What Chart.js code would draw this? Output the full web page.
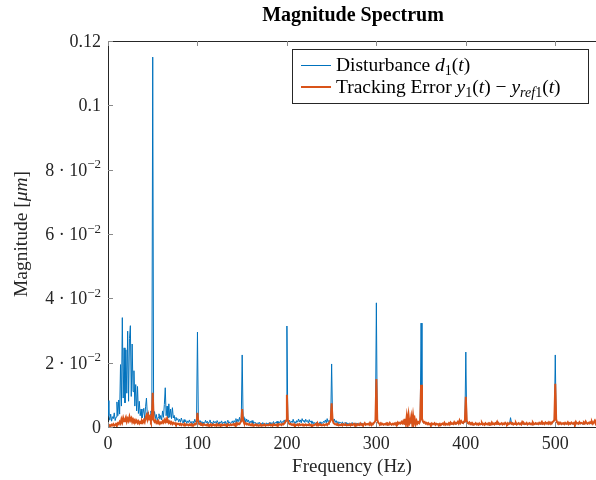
<!DOCTYPE html>
<html>
<head>
<meta charset="utf-8">
<script src="https://cdn.jsdelivr.net/npm/chart.js@4/dist/chart.umd.min.js"></script>
<style>
  html, body { margin: 0; padding: 0; background: #fff; overflow: hidden; }
  #wrap { width: 604px; height: 480px; }
</style>
</head>
<body>
<div id="wrap"><canvas id="spectrum" width="604" height="480"></canvas></div>
<script>
// magnitudes in units of 1e-3 um, one value per Hz starting at 0 Hz
const freqStep = 1;

const disturbance = [
  8.2, 3.5, 2.1, 4.0, 1.8, 3.2, 2.6, 4.4, 2.0, 3.1,
  7.8, 3.5, 8.4, 4.0, 19.4, 6.5, 34.0, 9.0, 24.6, 7.5,
  24.0, 10.5, 29.8, 8.0, 27.5, 31.5, 9.5, 25.8, 11.0, 17.5,
  6.5, 13.2, 5.0, 12.6, 4.2, 8.0, 3.5, 5.6, 2.8, 4.2,
  5.8, 2.4, 6.3, 9.0, 3.5, 4.6, 2.2, 3.8, 5.0, 2.5,
  115.0, 3.2, 4.8, 2.6, 3.9, 2.0, 3.0, 4.1, 2.4, 3.6,
  2.2, 5.0, 3.0, 7.0, 12.2, 3.5, 6.5, 2.8, 7.2, 3.0,
  5.6, 2.6, 6.0, 2.8, 3.6, 1.9, 3.0, 2.2, 2.6, 1.6,
  2.4, 1.5, 2.8, 1.8, 1.2, 2.3, 1.6, 2.0, 1.1, 1.9,
  1.4, 2.2, 1.3, 1.7, 1.0, 1.8, 1.2, 2.4, 1.5, 2.0,
  29.5, 2.6, 1.4, 2.0, 1.2, 1.7, 0.9, 1.5, 1.1, 2.1,
  1.3, 1.8, 1.0, 1.6, 2.2, 1.2, 1.5, 0.9, 1.9, 1.3,
  1.7, 1.1, 2.0, 1.4, 0.8, 1.6, 1.2, 1.9, 1.0, 1.5,
  1.2, 1.8, 0.9, 1.4, 2.1, 1.1, 1.6, 1.0, 1.3, 1.9,
  1.2, 2.0, 1.5, 2.6, 1.3, 2.4, 1.7, 3.0, 1.6, 2.8,
  22.4, 3.2, 1.9, 2.7, 1.4, 2.5, 1.6, 2.2, 1.1, 1.8,
  1.3, 2.0, 1.0, 1.6, 1.2, 1.4, 0.8, 1.3, 1.0, 1.5,
  0.9, 1.2, 0.7, 1.4, 1.0, 1.1, 0.8, 1.3, 0.9, 1.2,
  1.0, 1.5, 0.8, 1.3, 1.1, 1.7, 0.9, 1.4, 1.2, 1.8,
  1.0, 1.6, 1.3, 2.0, 1.1, 1.7, 1.4, 2.2, 1.2, 1.9,
  31.4, 2.3, 1.5, 2.1, 1.2, 1.8, 1.4, 2.4, 1.3, 1.7,
  1.1, 2.0, 1.5, 2.5, 1.6, 2.2, 1.3, 2.6, 1.8, 2.1,
  1.4, 2.4, 1.7, 2.0, 1.2, 2.3, 1.5, 1.9, 1.1, 1.6,
  1.0, 1.4, 0.8, 1.5, 1.1, 1.2, 0.9, 1.6, 1.0, 1.3,
  1.2, 1.8, 1.4, 2.2, 1.3, 2.6, 1.5, 2.1, 1.7, 2.4,
  19.6, 2.8, 1.6, 2.5, 1.4, 2.0, 1.2, 1.7, 1.0, 1.5,
  1.4, 1.0, 1.6, 0.9, 1.3, 1.1, 1.5, 0.8, 1.2, 1.0,
  1.3, 0.9, 1.1, 1.4, 0.8, 1.2, 1.0, 1.3, 0.9, 1.1,
  1.2, 0.8, 1.0, 1.3, 0.9, 1.1, 0.7, 1.2, 1.0, 0.8,
  1.1, 0.9, 1.2, 1.0, 1.3, 0.8, 1.1, 1.4, 1.6, 2.0,
  38.6, 2.0, 1.2, 1.0, 0.8, 1.1, 0.7, 0.9, 0.6, 0.8,
  0.7, 1.0, 0.6, 0.9, 0.7, 1.1, 0.8, 0.6, 0.9, 0.7,
  1.0, 0.7, 1.1, 0.8, 1.2, 0.9, 1.1, 1.0, 1.4, 1.1,
  1.4, 0.9, 2.2, 0.8, 2.8, 1.0, 3.0, 0.9, 1.2, 2.7,
  0.9, 3.0, 1.0, 2.0, 0.8, 1.6, 0.9, 1.3, 1.0, 1.8,
  32.3, 2.4, 1.6, 1.2, 1.4, 1.0, 1.1, 0.8, 1.0, 0.7,
  0.9, 0.6, 1.0, 0.7, 0.8, 1.0, 0.6, 0.9, 0.7, 0.8,
  0.6, 0.9, 0.5, 0.8, 1.0, 0.7, 1.1, 0.6, 0.9, 0.7,
  0.8, 1.0, 0.7, 1.2, 0.9, 1.0, 0.8, 1.3, 0.9, 1.1,
  1.0, 1.4, 0.9, 1.7, 1.1, 1.5, 1.2, 1.0, 1.5, 1.9,
  23.3, 1.8, 1.1, 0.9, 1.2, 0.8, 1.0, 0.7, 0.9, 0.6,
  0.8, 1.0, 0.7, 0.9, 0.6, 1.0, 0.7, 0.8, 1.1, 0.7,
  0.9, 0.6, 1.0, 0.8, 0.7, 1.0, 0.6, 0.9, 0.7, 1.2,
  0.8, 1.0, 0.7, 1.0, 0.9, 1.4, 0.8, 1.0, 0.7, 0.9,
  1.0, 0.7, 1.0, 0.8, 1.1, 0.9, 0.7, 1.0, 0.8, 1.2,
  2.9, 1.3, 1.0, 0.7, 0.9, 0.8, 1.1, 0.7, 0.9, 1.0,
  0.8, 1.0, 0.7, 1.3, 0.9, 1.0, 0.8, 0.9, 1.1, 0.7,
  0.9, 1.0, 0.8, 1.0, 0.7, 1.2, 0.9, 0.8, 1.0, 0.9,
  1.0, 0.8, 1.1, 0.9, 1.0, 1.4, 0.9, 1.0, 0.8, 1.2,
  1.0, 1.1, 0.9, 1.3, 1.0, 1.2, 1.0, 1.4, 1.6, 2.0,
  22.4, 2.1, 1.3, 1.0, 1.2, 0.9, 1.1, 0.8, 1.0, 1.0,
  0.8, 1.1, 0.9, 1.0, 1.3, 0.8, 1.0, 0.9, 1.2, 1.0,
  0.9, 1.1, 0.8, 1.4, 1.0, 1.0, 0.9, 1.3, 1.0, 1.1,
  1.0, 0.9, 1.2, 1.0, 1.5, 1.0, 0.9, 1.1, 1.0, 1.3,
  1.0, 1.4, 0.9, 1.2, 1.7, 1.0, 1.9, 1.1, 1.0, 1.4,
  1.0
];

const trackingError = [
  0.8, 0.4, 0.6, 0.3, 0.7, 0.5, 0.9, 0.4, 0.6, 1.0,
  0.7, 1.2, 0.9, 1.6, 1.1, 2.4, 1.5, 2.8, 1.8, 2.2,
  3.0, 1.7, 2.6, 1.9, 3.2, 2.1, 2.7, 1.6, 2.4, 1.8,
  2.2, 1.5, 2.0, 1.3, 1.8, 1.1, 1.6, 1.2, 1.9, 1.4,
  2.1, 1.5, 2.8, 3.6, 2.4, 3.8, 2.6, 3.2, 1.9, 2.5,
  10.6, 2.2, 1.6, 2.0, 1.3, 1.7, 1.1, 1.5, 1.0, 1.4,
  1.2, 1.8, 1.4, 2.2, 1.6, 2.4, 1.5, 2.0, 1.3, 1.7,
  1.1, 1.5, 0.9, 1.3, 1.0, 1.2, 0.8, 1.1, 0.9, 1.0,
  0.7, 1.0, 0.6, 0.9, 0.8, 0.5, 0.9, 0.6, 0.8, 0.7,
  0.5, 0.8, 0.6, 0.9, 0.4, 0.7, 0.6, 1.0, 0.8, 1.2,
  4.4, 1.3, 0.9, 1.1, 0.6, 0.8, 0.5, 0.9, 0.7, 0.6,
  0.5, 0.8, 0.4, 0.7, 0.6, 0.9, 0.4, 0.6, 0.8, 0.5,
  0.7, 0.4, 0.9, 0.5, 0.6, 0.8, 0.3, 0.7, 0.5, 0.6,
  0.8, 0.5, 0.7, 0.4, 0.9, 0.6, 0.5, 0.8, 0.6, 0.7,
  0.9, 0.6, 1.0, 0.7, 1.2, 0.8, 1.1, 0.9, 1.4, 1.8,
  5.6, 2.0, 1.3, 1.0, 1.2, 0.8, 1.0, 0.7, 0.9, 0.6,
  0.8, 0.5, 0.7, 0.4, 0.6, 0.8, 0.5, 0.7, 0.4, 0.6,
  0.5, 0.7, 0.4, 0.6, 0.5, 0.8, 0.4, 0.6, 0.7, 0.5,
  0.6, 0.8, 0.5, 0.7, 0.4, 0.9, 0.6, 0.7, 0.5, 0.8,
  0.6, 0.9, 0.7, 0.8, 0.6, 1.0, 0.8, 1.1, 1.4, 2.0,
  10.0, 2.2, 1.2, 0.9, 1.0, 0.7, 0.8, 0.6, 0.9, 0.5,
  0.7, 0.6, 0.8, 0.5, 0.9, 0.6, 0.7, 0.8, 0.5, 0.7,
  0.6, 0.8, 0.5, 0.7, 0.6, 0.9, 0.5, 0.7, 0.4, 0.6,
  0.5, 0.7, 0.9, 0.6, 1.2, 0.5, 0.8, 0.6, 0.7, 0.5,
  0.6, 0.8, 0.5, 0.7, 0.9, 0.6, 1.0, 1.3, 1.6, 2.2,
  7.4, 2.4, 1.3, 1.0, 0.8, 0.9, 0.6, 0.8, 0.5, 0.7,
  0.6, 0.8, 0.5, 0.9, 0.7, 0.6, 0.8, 0.5, 0.7, 0.6,
  0.8, 0.5, 0.9, 0.6, 0.7, 1.0, 0.6, 0.8, 0.5, 0.9,
  0.7, 0.6, 1.1, 0.7, 0.9, 0.6, 0.8, 1.2, 0.7, 0.9,
  0.8, 1.0, 0.7, 1.3, 0.9, 1.1, 0.8, 1.2, 1.5, 2.0,
  14.9, 2.3, 1.4, 1.1, 0.9, 1.2, 0.8, 1.0, 0.7, 0.9,
  0.8, 1.1, 0.7, 1.0, 0.8, 1.3, 0.9, 0.7, 1.0, 0.8,
  1.1, 0.8, 1.2, 0.9, 1.4, 1.0, 1.3, 1.1, 1.6, 1.2,
  1.8, 1.0, 2.6, 0.9, 3.4, 1.2, 3.7, 1.0, 1.5, 3.3,
  1.1, 3.6, 1.2, 2.4, 0.9, 1.9, 1.1, 1.5, 1.2, 2.1,
  13.1, 2.6, 1.8, 1.4, 1.6, 1.1, 1.3, 0.9, 1.2, 0.8,
  1.0, 0.7, 1.1, 0.8, 0.9, 1.2, 0.7, 1.0, 0.8, 0.9,
  0.7, 1.0, 0.6, 0.9, 1.1, 0.8, 1.3, 0.7, 1.0, 0.8,
  0.9, 1.2, 0.8, 1.4, 1.0, 1.1, 0.9, 1.5, 1.0, 1.3,
  1.2, 1.6, 1.1, 2.0, 1.3, 1.8, 1.4, 1.2, 1.7, 2.1,
  9.4, 2.0, 1.3, 1.1, 1.4, 0.9, 1.2, 0.8, 1.0, 0.7,
  0.9, 1.2, 0.8, 1.0, 0.7, 1.1, 0.8, 0.9, 1.3, 0.8,
  1.0, 0.7, 1.2, 0.9, 0.8, 1.1, 0.7, 1.0, 0.8, 1.4,
  0.9, 1.1, 0.8, 1.2, 1.0, 1.6, 0.9, 1.1, 0.8, 1.0,
  1.2, 0.8, 1.1, 0.9, 1.3, 1.0, 0.8, 1.2, 0.9, 1.1,
  1.4, 1.0, 1.2, 0.8, 1.1, 0.9, 1.3, 0.8, 1.0, 1.2,
  0.9, 1.1, 0.8, 1.5, 1.0, 1.2, 0.9, 1.0, 1.3, 0.8,
  1.0, 1.2, 0.9, 1.1, 0.8, 1.4, 1.0, 0.9, 1.2, 1.0,
  1.1, 0.9, 1.3, 1.0, 1.2, 1.6, 1.0, 1.2, 0.9, 1.4,
  1.1, 1.3, 1.0, 1.5, 1.2, 1.4, 1.1, 1.6, 1.8, 2.2,
  13.4, 2.4, 1.5, 1.2, 1.4, 1.0, 1.3, 0.9, 1.1, 1.2,
  0.9, 1.3, 1.0, 1.1, 1.5, 0.9, 1.2, 1.0, 1.4, 1.1,
  1.0, 1.3, 0.9, 1.6, 1.1, 1.2, 1.0, 1.5, 1.1, 1.3,
  1.2, 1.0, 1.4, 1.1, 1.7, 1.2, 1.0, 1.3, 1.1, 1.5,
  1.2, 1.6, 1.0, 1.4, 1.9, 1.2, 2.1, 1.3, 1.1, 1.6,
  1.2
];

const xTickValues = [0, 100, 200, 300, 400, 500];
const xTickLabels = ['0', '100', '200', '300', '400', '500'];
const yTickValues = [0, 20, 40, 60, 80, 100, 120];
// [mantissa text, exponent text]
const yTickLabels = [['0', ''], ['2 \u00b7 10', '\u22122'], ['4 \u00b7 10', '\u22122'], ['6 \u00b7 10', '\u22122'],
                     ['8 \u00b7 10', '\u22122'], ['0.1', ''], ['0.12', '']];

const blue = '#0072BD';
const orange = '#D95319';
const ink = '#262626';
const serif = "'Liberation Serif', 'DejaVu Serif', serif";

function toPoints(values) {
  return values.map((v, i) => ({ x: i * freqStep, y: v }));
}

function runFont(r, size) {
  const s = r.sub || r.sup ? size * 0.72 : size;
  return (r.it ? 'italic ' : '') + s + 'px ' + serif;
}

// draws a row of text pieces (roman / italic / sub / sup) from x
function drawRuns(ctx, runs, x, y, size, align) {
  let total = 0;
  runs.forEach((r) => {
    ctx.font = runFont(r, size);
    r.w = ctx.measureText(r.t).width;
    total += r.w;
  });
  let cx = x;
  if (align === 'center') cx = x - total / 2;
  if (align === 'right') cx = x - total;
  runs.forEach((r) => {
    ctx.font = runFont(r, size);
    let dy = 0;
    if (r.sub) dy = size * 0.22;
    if (r.sup) dy = -size * 0.4;
    ctx.fillText(r.t, cx, y + dy);
    cx += r.w;
  });
}

const decorations = {
  id: 'decorations',
  afterDraw(chart) {
    const ctx = chart.ctx;
    const area = chart.chartArea;
    const xs = chart.scales.x;
    const ys = chart.scales.y;
    ctx.save();

    // box top/right lines and inward ticks
    ctx.strokeStyle = ink;
    ctx.lineWidth = 1;
    ctx.beginPath();
    ctx.moveTo(area.left, Math.round(area.top) + 0.5);
    ctx.lineTo(area.right, Math.round(area.top) + 0.5);
    ctx.moveTo(Math.round(area.right) - 0.5, area.top);
    ctx.lineTo(Math.round(area.right) - 0.5, area.bottom);
    ctx.stroke();

    ctx.strokeStyle = '#8a8a8a';
    ctx.beginPath();
    xTickValues.forEach((v) => {
      const px = Math.round(xs.getPixelForValue(v)) + 0.5;
      ctx.moveTo(px, area.bottom);
      ctx.lineTo(px, area.bottom - 5);
      ctx.moveTo(px, area.top);
      ctx.lineTo(px, area.top + 5);
    });
    yTickValues.forEach((v) => {
      const py = Math.round(ys.getPixelForValue(v)) + 0.5;
      ctx.moveTo(area.left, py);
      ctx.lineTo(area.left + 5, py);
    });
    ctx.stroke();

    // y tick labels with real superscripts
    ctx.fillStyle = ink;
    ctx.textBaseline = 'alphabetic';
    yTickValues.forEach((v, i) => {
      const py = ys.getPixelForValue(v);
      const runs = [{ t: yTickLabels[i][0] }];
      if (yTickLabels[i][1]) runs.push({ t: yTickLabels[i][1], sup: true });
      drawRuns(ctx, runs, area.left - 7, py + 6, 18, 'right');
    });

    // title
    ctx.fillStyle = '#000';
    ctx.font = 'bold 20px ' + serif;
    ctx.textAlign = 'center';
    ctx.fillText('Magnitude Spectrum', 353, 21);
    ctx.textAlign = 'left';

    // axis titles
    ctx.fillStyle = ink;
    drawRuns(ctx, [{ t: 'Frequency (Hz)' }], 352, 472, 19, 'center');
    ctx.save();
    ctx.translate(27, 234);
    ctx.rotate(-Math.PI / 2);
    drawRuns(ctx, [{ t: 'Magnitude [' }, { t: '\u03bcm', it: true }, { t: ']' }], 0, 0, 19.5, 'center');
    ctx.restore();

    // legend
    ctx.fillStyle = '#fff';
    ctx.fillRect(292, 49, 297, 55);
    ctx.strokeStyle = ink;
    ctx.lineWidth = 1;
    ctx.strokeRect(292.5, 49.5, 296, 54);
    ctx.strokeStyle = blue;
    ctx.lineWidth = 1;
    ctx.beginPath();
    ctx.moveTo(301, 65.5);
    ctx.lineTo(331, 65.5);
    ctx.stroke();
    ctx.strokeStyle = orange;
    ctx.lineWidth = 2;
    ctx.beginPath();
    ctx.moveTo(301, 87);
    ctx.lineTo(331, 87);
    ctx.stroke();
    ctx.fillStyle = '#000';
    drawRuns(ctx, [
      { t: 'Disturbance ' }, { t: 'd', it: true }, { t: '1', sub: true },
      { t: '(' }, { t: 't', it: true }, { t: ')' }
    ], 336, 71, 19.5);
    drawRuns(ctx, [
      { t: 'Tracking Error ' }, { t: 'y', it: true }, { t: '1', sub: true },
      { t: '(' }, { t: 't', it: true }, { t: ') \u2212 ' }, { t: 'y', it: true },
      { t: 'ref', it: true, sub: true }, { t: '1', sub: true },
      { t: '(' }, { t: 't', it: true }, { t: ')' }
    ], 336, 93, 19.5);

    ctx.restore();
  }
};

new Chart(document.getElementById('spectrum'), {
  type: 'line',
  data: {
    datasets: [
      {
        label: 'Disturbance d1(t)',
        data: toPoints(disturbance),
        borderColor: blue,
        borderWidth: 1,
        pointRadius: 0,
        tension: 0,
        order: 2
      },
      {
        label: 'Tracking Error y1(t) - yref1(t)',
        data: toPoints(trackingError),
        borderColor: orange,
        borderWidth: 2,
        pointRadius: 0,
        tension: 0,
        order: 1
      }
    ]
  },
  options: {
    responsive: false,
    animation: false,
    layout: { padding: { top: 41, right: 4, left: 0, bottom: 0 } },
    plugins: {
      legend: { display: false },
      title: { display: false },
      tooltip: { enabled: false }
    },
    scales: {
      x: {
        type: 'linear',
        min: 0,
        max: 550,
        afterFit: (s) => { s.height = 53; },
        afterBuildTicks: (s) => { s.ticks = xTickValues.map((v) => ({ value: v })); },
        grid: { display: false, drawTicks: false },
        border: { color: ink, width: 1 },
        ticks: {
          padding: 6,
          color: ink,
          font: { family: serif, size: 18 },
          callback: (v) => xTickLabels[xTickValues.indexOf(v)],
          maxRotation: 0
        }
      },
      y: {
        min: 0,
        max: 120,
        afterFit: (s) => { s.width = 108; },
        afterBuildTicks: (s) => { s.ticks = yTickValues.map((v) => ({ value: v })); },
        grid: { display: false, drawTicks: false },
        border: { color: ink, width: 1 },
        ticks: { display: false }
      }
    }
  },
  plugins: [decorations]
});
</script>
</body>
</html>
